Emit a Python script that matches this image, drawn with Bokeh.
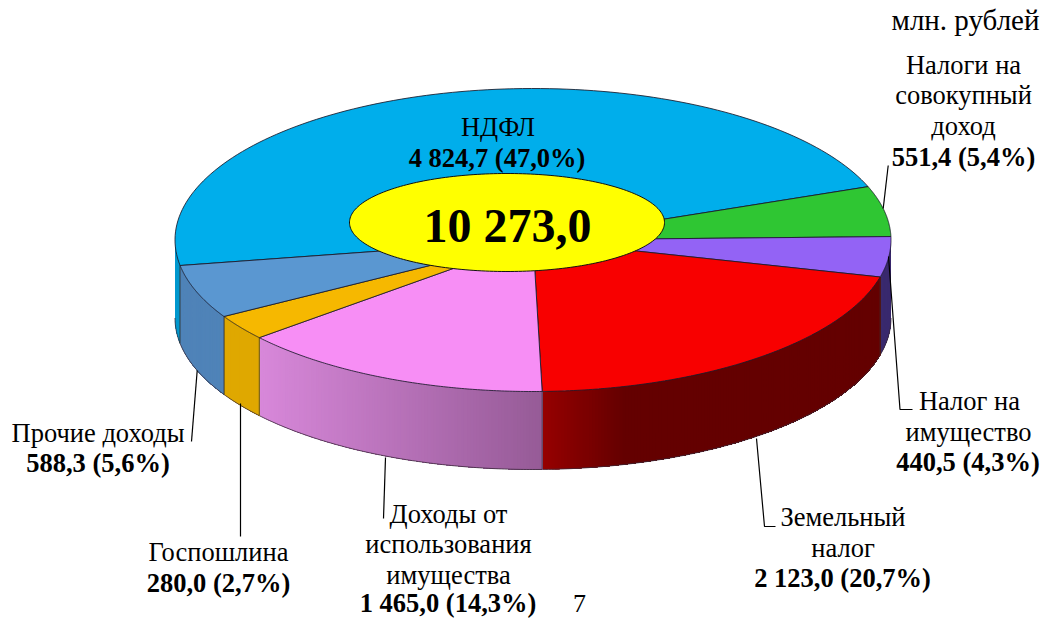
from bokeh.plotting import figure
from bokeh.embed import file_html
from bokeh.resources import INLINE
from bokeh.core.properties import value
from bokeh.models import Range1d
import numpy as np

# ---- data -----------------------------------------------------------------
categories = ["НДФЛ", "Налоги на совокупный доход", "Налог на имущество", "Земельный налог",
              "Доходы от использования имущества", "Госпошлина", "Прочие доходы"]
amounts = [4824.7, 551.4, 440.5, 2123.0, 1465.0, 280.0, 588.3]
total_label = "10 273,0"
unit_label = "млн. рублей"
page_number = "7"

top_colors = ["#00AEEB", "#2FC633", "#9363F5", "#F80000", "#F78EF5", "#F6B800", "#5A97D1"]
side_left = ["#0098CE", "#259E29", "#3A2A6E", "#960000", "#D888DA", "#DFA800", "#4F83B8"]
side_right = ["#0098CE", "#259E29", "#3A2A6E", "#640000", "#965B97", "#DFA800", "#4F83B8"]
side_span = [1, 1, 1, 0.24, 1, 1, 1]

# label text: (x, baseline y, text, bold, align, font px)
labels = [
    (1039, 30, unit_label, False, "right", 29),
    (963, 74, "Налоги на", False, "center", 26.5),
    (963, 104, "совокупный", False, "center", 26.5),
    (963, 135, "доход", False, "center", 26.5),
    (963, 166, "551,4 (5,4%)", True, "center", 26.5),
    (497.5, 136, "НДФЛ", False, "center", 26.5),
    (496.5, 167, "4 824,7 (47,0%)", True, "center", 26.5),
    (969, 410, "Налог на", False, "center", 26.5),
    (968, 441, "имущество", False, "center", 26.5),
    (967.5, 471, "440,5 (4,3%)", True, "center", 26.5),
    (842.5, 526, "Земельный", False, "center", 26.5),
    (842.5, 557, "налог", False, "center", 26.5),
    (842, 587, "2 123,0 (20,7%)", True, "center", 26.5),
    (448, 523, "Доходы от", False, "center", 26.5),
    (448, 553, "использования", False, "center", 26.5),
    (448, 584, "имущества", False, "center", 26.5),
    (447.5, 612, "1 465,0 (14,3%)", True, "center", 26.5),
    (218, 561, "Госпошлина", False, "center", 26.5),
    (218, 592, "280,0 (2,7%)", True, "center", 26.5),
    (97.5, 442, "Прочие доходы", False, "center", 26.5),
    (97.5, 472, "588,3 (5,6%)", True, "center", 26.5),
    (579, 612, page_number, False, "center", 26),
    (507, 242, total_label, True, "center", 48),
]

leaders = [
    ([887.7, 882.7], [165, 208]),
    ([888, 899.5, 912], [256, 409, 409]),
    ([756, 764, 775], [438, 526, 526]),
    ([385, 383], [457, 518]),
    ([240, 240], [403, 536]),
    ([196.7, 191], [370, 441]),
]

# ---- geometry -------------------------------------------------------------
W, H = 1042, 618
CX, CY, RX, RY, DEPTH = 532.5, 239.5, 358.0, 151.5, 78.0
START = 189.7
HOLE = (506.5, 222.0, 157.5, 49.0)
BASELINE_SHIFT = 0.36  # rendered text sits this many em below its anchor

p = figure(width=W, height=H, output_backend="svg", toolbar_location=None,
           x_range=Range1d(0, W), y_range=Range1d(H, 0), min_border=0,
           margin=0, outline_line_color=None)
p.axis.visible = False
p.grid.visible = False
p.xaxis.visible = False
p.yaxis.visible = False

fractions = np.array(amounts) / sum(amounts)
edges = START - np.concatenate([[0], np.cumsum(fractions)]) * 360.0


def pt(a, dy=0.0):
    t = np.radians(a)
    return CX + RX * np.cos(t), CY - RY * np.sin(t) + dy


def hexrgb(c):
    return np.array([int(c[i:i + 2], 16) for i in (1, 3, 5)], float)


# side walls: only the part of each slice on the near half of the rim
for i in range(len(amounts)):
    a0, a1 = edges[i], edges[i + 1]
    segs = []
    for shift in (0, -360):
        lo, hi = max(a1 + shift, -180.0), min(a0 + shift, 0.0)
        if hi > lo:
            segs.append((lo, hi))
    for lo, hi in segs:
        steps = max(2, int((hi - lo) / 0.5))
        grid = np.linspace(lo, hi, steps + 1)  # from left to right
        xmin, xmax = pt(lo)[0], pt(hi)[0]
        cl, cr = hexrgb(side_left[i]), hexrgb(side_right[i])
        gx, gy = pt(grid)
        for k in range(steps):
            # each strip runs to the far end; the next one paints over it, so no seams
            f = min(1.0, (gx[k] - xmin) / max((xmax - xmin) * side_span[i], 1e-6))
            c = (cl + (cr - cl) * f).astype(int)
            col = "#%02x%02x%02x" % tuple(c)
            sx, sy = gx[k:], gy[k:]
            p.patch(np.r_[sx, sx[::-1]], np.r_[sy, (sy + DEPTH)[::-1]],
                    fill_color=col, line_color=None)
        p.line(gx, gy + DEPTH, line_color="#3a2a3a", line_width=1, line_alpha=0.8)
        for g in (lo, hi):
            if -179.9 < g < -0.1:
                x, y = pt(g)
                p.line([x, x], [y, y + DEPTH], line_color="#333333", line_width=1, line_alpha=0.7)

# top faces
for i, c in enumerate(top_colors):
    g = np.linspace(edges[i], edges[i + 1], 120)
    x, y = pt(g)
    p.patch(np.r_[CX, x], np.r_[CY, y], fill_color=c, line_color="#1a1a2a", line_width=1, line_alpha=0.85)

# centre ellipse
t = np.linspace(0, 2 * np.pi, 240)
p.patch(HOLE[0] + HOLE[2] * np.cos(t), HOLE[1] + HOLE[3] * np.sin(t),
        fill_color="#FFFF00", line_color="#111111", line_width=1)

# leader lines
for lx, ly in leaders:
    p.line(lx, ly, line_color="#000000", line_width=1.2)

# texts
for x, y, s, b, al, fs in labels:
    p.text([x], [y - BASELINE_SHIFT * fs], text=[s], text_font=value("Liberation Serif"),
           text_font_size=f"{fs}px", text_font_style="bold" if b else "normal", text_align=al,
           text_baseline="alphabetic", text_color="#000000")

open("out.html", "w").write(file_html(p, INLINE))
